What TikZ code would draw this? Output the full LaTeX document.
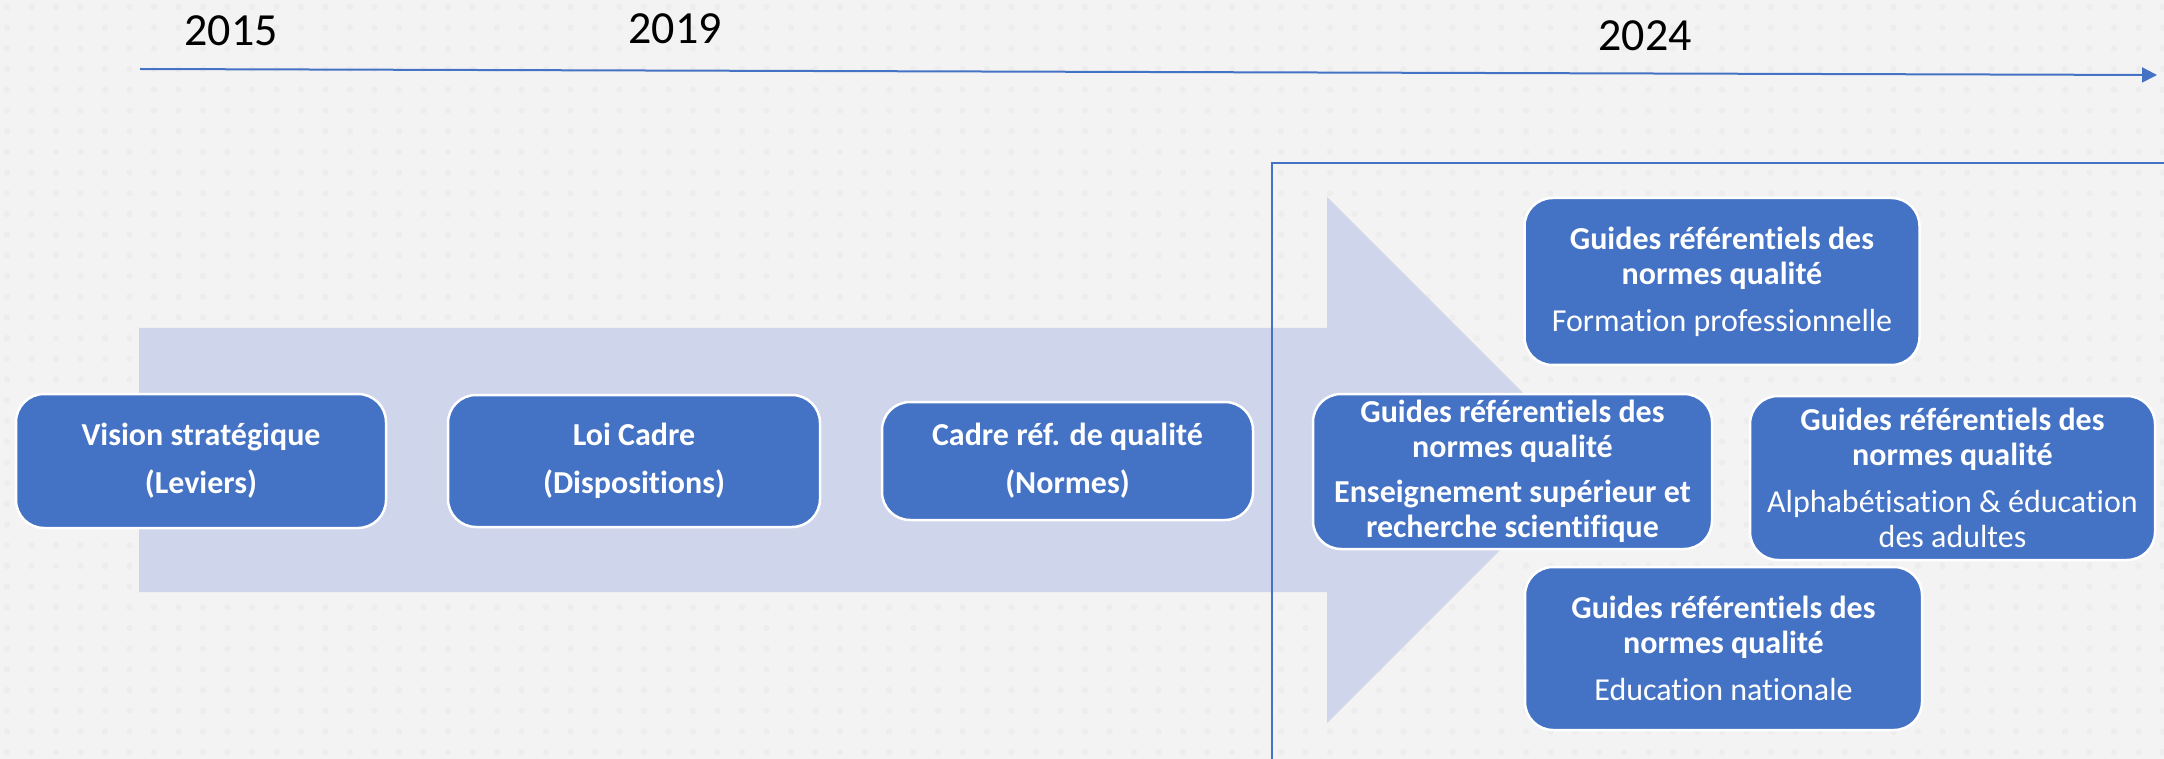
\documentclass[tikz,border=0pt]{standalone}
\usepackage{fontspec}
\setmainfont{Carlito}[Ligatures={NoCommon}]
\usetikzlibrary{arrows.meta}
\definecolor{bgcol}{HTML}{F3F3F3}
\definecolor{dotcol}{HTML}{EDEDED}
\definecolor{boxblue}{HTML}{4472C4}
\definecolor{lightarrow}{HTML}{CFD5EA}
\tikzset{
  stagebox/.style={fill=boxblue, draw=white, line width=2.5pt, rounded corners=28pt,
    text=white, align=center, inner sep=0pt, font=\bfseries\fontsize{32}{48}\selectfont},
  guidebox/.style={fill=boxblue, draw=white, line width=2.5pt, rounded corners=28pt,
    text=white, align=center, inner sep=0pt, font=\fontsize{32}{35}\selectfont},
  yearlabel/.style={text=black, font=\fontsize{46}{50}\selectfont, inner sep=0pt},
  timeline/.style={draw=boxblue, line width=2pt, -{Triangle[length=15pt,width=15pt]}},
  framebox/.style={draw=boxblue, line width=2.5pt}
}
\begin{document}
\begin{tikzpicture}[x=1pt,y=-1pt]
\useasboundingbox (0,0) rectangle (2164,759);
\fill[bgcol] (0,0) rectangle (2164,759);
% faint dot grid
\foreach \i in {0,...,88}{
  \foreach \j in {0,...,36}{
    \fill[dotcol] ({7+\i*24.5},{7+\j*20.7}) circle (3.2);
  }
}
% big light arrow
\fill[lightarrow] (139,328) -- (1327,328) -- (1327,197) -- (1590,460) -- (1327,723) -- (1327,592) -- (139,592) -- cycle;
% timeline
\coordinate (tl0) at (140,69);
\coordinate (tl1) at (2157,75);
\draw[timeline] (tl0) -- (tl1);
\node[yearlabel] (y2015) at (231,31) {2015};
\node[yearlabel] (y2019) at (675,29) {2019};
\node[yearlabel] (y2024) at (1645,36) {2024};
% frame
\draw[framebox] (1272,780) -- (1272,163) -- (2180,163);
% stage boxes
\node[stagebox, minimum width=370pt, minimum height=134pt] (vision) at (201,461) {Vision stratégique\\(Leviers)};
\node[stagebox, minimum width=372pt, minimum height=132pt] (loi) at (634,461) {Loi Cadre\\(Dispositions)};
\node[stagebox, minimum width=371pt, minimum height=118pt] (cadre) at (1067.5,461) {Cadre réf. de qualité\\(Normes)};
% guide boxes
\node[guidebox, minimum width=395pt, minimum height=167pt] (fp) at (1722,281.5)
  {\textbf{Guides référentiels des}\\\textbf{normes qualité}\\[12pt]Formation professionnelle};
\node[guidebox, minimum width=399pt, minimum height=155pt] (es) at (1512.5,471.5)
  {\textbf{Guides référentiels des}\\\textbf{normes qualité}\\[10pt]\textbf{Enseignement supérieur et}\\\textbf{recherche scientifique}};
\node[guidebox, minimum width=405pt, minimum height=164pt] (al) at (1952.5,478)
  {\textbf{Guides référentiels des}\\\textbf{normes qualité}\\[12pt]Alphabétisation \& éducation\\des adultes};
\node[guidebox, minimum width=397pt, minimum height=163pt] (en) at (1723.5,648.5)
  {\textbf{Guides référentiels des}\\\textbf{normes qualité}\\[12pt]Education nationale};
\end{tikzpicture}
\end{document}
